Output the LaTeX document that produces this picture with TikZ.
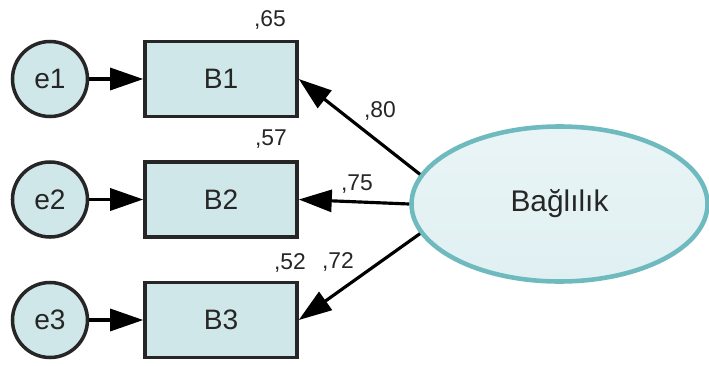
\documentclass[tikz,border=0pt]{standalone}
\usepackage{fontspec}
\setmainfont{Liberation Sans}
\usepackage{tikz}
\usetikzlibrary{arrows.meta,positioning,shapes}
\definecolor{itemfill}{RGB}{208,231,233}
\definecolor{latentfill}{RGB}{224,240,242}
\definecolor{latentdraw}{RGB}{110,186,190}
\tikzstyle{item}=[
  draw=black!85,
  fill=itemfill,
  font={\fontsize{16}{19}\selectfont},
  inner sep=0pt,
  line width=2pt,
  minimum height=1.5cm,
  minimum width=3.04cm,
  rectangle,
  text=black!85,
]
\tikzstyle{err}=[
  circle,
  draw=black!85,
  fill=itemfill,
  font={\fontsize{16}{19}\selectfont},
  inner sep=0pt,
  line width=2pt,
  minimum size=1.5cm,
  text=black!85,
]
\tikzstyle{latent}=[
  draw=latentdraw,
  ellipse,
  font={\fontsize{17}{20}\selectfont},
  inner sep=0pt,
  line width=2.6pt,
  minimum height=3.1cm,
  minimum width=5.92cm,
  text=black!85,
  top color=latentfill!70!white,
  bottom color=latentfill,
]
\tikzstyle{loading}=[
  -{Triangle[length=0.66cm,width=0.44cm]},
  draw=black,
  line width=1.8pt,
]
\tikzstyle{coef}=[
  font={\fontsize{13}{15}\selectfont},
  inner sep=0pt,
  text=black!85,
]
\tikzset{
  node distance=1.08cm,
}

\begin{document}
\begin{tikzpicture}
    \useasboundingbox (0,0) rectangle (14.18,-7.3);
    \node (B1) [item] at (4.42,-1.58) {B1};
    \node (B2) [item] at (4.42,-3.99) {B2};
    \node (B3) [item] at (4.42,-6.4) {B3};
    \node (e1) [err, left=of B1] {e1};
    \node (e2) [err, left=of B2] {e2};
    \node (e3) [err, left=of B3] {e3};
    \node (bag) [latent] at (11.19,-4.08) {Bağlılık};
    \node (r1) [coef] at (5.4,-0.4) {,65};
    \node (r2) [coef] at (5.42,-2.78) {,57};
    \node (r3) [coef] at (5.8,-5.26) {,52};
    \node (l1) [coef] at (7.6,-2.22) {,80};
    \node (l2) [coef] at (7.14,-3.68) {,75};
    \node (l3) [coef] at (6.76,-5.24) {,72};
    \draw [loading] (e1) -- (B1);
    \draw [loading] (e2) -- (B2);
    \draw [loading] (e3) -- (B3);
    \draw [loading] (bag.168) -- (B1.east);
    \draw [loading] (bag.west) -- (B2.east);
    \draw [loading] (bag.192) -- (B3.east);
  \end{tikzpicture}
\end{document}
